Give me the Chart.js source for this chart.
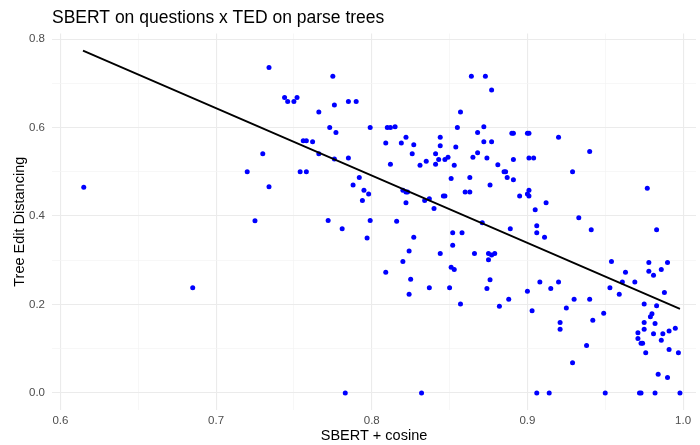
<!DOCTYPE html>
<html>
<head>
<meta charset="utf-8">
<script src="https://cdn.jsdelivr.net/npm/chart.js@4"></script>
<style>
  html, body { margin: 0; padding: 0; background: #fff; overflow: hidden; }
</style>
</head>
<body>
<canvas id="scatterChart" width="700" height="445"></canvas>
<script>
// SBERT similarity (x) vs tree edit distance (y), one entry per question pair
const sbertX = [
  0.615, 0.685, 0.720, 0.725, 0.730, 0.734, 0.734, 0.744, 0.746, 0.750,
  0.752, 0.754, 0.756, 0.758, 0.758, 0.762, 0.766, 0.766, 0.772, 0.773,
  0.775, 0.776, 0.776, 0.777, 0.781, 0.783, 0.785, 0.785, 0.790, 0.864,
  0.873, 0.877, 0.857, 0.799, 0.810, 0.812, 0.815, 0.855, 0.868, 0.872,
  0.809, 0.819, 0.822, 0.827, 0.826, 0.844, 0.844, 0.841, 0.843, 0.847,
  0.849, 0.854, 0.872, 0.877, 0.868, 0.865, 0.874, 0.881, 0.885, 0.887,
  0.831, 0.835, 0.841, 0.853, 0.812, 0.792, 0.788, 0.795, 0.798, 0.794,
  0.820, 0.822, 0.823, 0.822, 0.834, 0.837, 0.840, 0.846, 0.847, 0.851,
  0.860, 0.863, 0.863, 0.876, 0.799, 0.816, 0.871, 0.797, 0.827, 0.824,
  0.820, 0.809, 0.825, 0.824, 0.837, 0.850, 0.844, 0.852, 0.858, 0.852,
  0.851, 0.853, 0.866, 0.875, 0.877, 0.879, 0.875, 0.876, 0.874, 0.857,
  0.882, 0.832, 0.905, 0.933, 0.889, 0.906, 0.906, 0.911, 0.941, 0.983,
  0.954, 0.978, 0.990, 0.978, 0.981, 0.986, 0.963, 0.961, 0.969, 0.953,
  0.959, 0.988, 0.908, 0.920, 0.915, 0.900, 0.888, 0.930, 0.940, 0.903,
  0.925, 0.949, 0.942, 0.921, 0.921, 0.975, 0.983, 0.980, 0.979, 0.975,
  0.982, 0.975, 0.971, 0.981, 0.987, 0.991, 0.995, 0.971, 0.973, 0.974,
  0.986, 0.991, 0.997, 0.976, 0.938, 0.929, 0.984, 0.990, 0.906, 0.914,
  0.950, 0.972, 0.973, 0.982, 0.998, 0.890, 0.891, 0.900, 0.901, 0.920,
  0.940, 0.891, 0.901, 0.904, 0.886, 0.891, 0.929, 0.977, 0.901, 0.895,
  0.900, 0.901, 0.912
];
const tedY = [
  0.465, 0.238, 0.500, 0.389, 0.541, 0.736, 0.466, 0.668, 0.659, 0.659,
  0.668, 0.500, 0.570, 0.570, 0.500, 0.568, 0.541, 0.635, 0.390, 0.600,
  0.716, 0.529, 0.651, 0.589, 0.371, 0.000, 0.531, 0.659, 0.659, 0.716,
  0.716, 0.685, 0.635, 0.600, 0.600, 0.600, 0.602, 0.600, 0.589, 0.602,
  0.565, 0.565, 0.578, 0.561, 0.541, 0.578, 0.559, 0.541, 0.528, 0.528,
  0.533, 0.556, 0.568, 0.568, 0.543, 0.533, 0.531, 0.516, 0.500, 0.487,
  0.515, 0.524, 0.517, 0.515, 0.517, 0.487, 0.470, 0.458, 0.450, 0.435,
  0.458, 0.454, 0.454, 0.430, 0.435, 0.439, 0.417, 0.445, 0.445, 0.485,
  0.454, 0.454, 0.487, 0.470, 0.390, 0.388, 0.385, 0.350, 0.352, 0.321,
  0.297, 0.273, 0.257, 0.223, 0.238, 0.238, 0.315, 0.362, 0.362, 0.334,
  0.284, 0.279, 0.315, 0.315, 0.312, 0.315, 0.301, 0.256, 0.236, 0.201,
  0.196, 0.000, 0.414, 0.396, 0.371, 0.378, 0.362, 0.352, 0.369, 0.369,
  0.297, 0.295, 0.295, 0.275, 0.266, 0.279, 0.273, 0.251, 0.251, 0.238,
  0.223, 0.227, 0.251, 0.251, 0.236, 0.230, 0.212, 0.212, 0.212, 0.186,
  0.192, 0.180, 0.164, 0.159, 0.144, 0.201, 0.197, 0.179, 0.172, 0.159,
  0.157, 0.144, 0.136, 0.134, 0.134, 0.140, 0.146, 0.123, 0.112, 0.112,
  0.119, 0.098, 0.091, 0.091, 0.107, 0.068, 0.042, 0.035, 0.000, 0.000,
  0.000, 0.000, 0.000, 0.000, 0.000, 0.587, 0.587, 0.587, 0.587, 0.578,
  0.546, 0.528, 0.531, 0.531, 0.500, 0.482, 0.500, 0.463, 0.458, 0.445,
  0.450, 0.445, 0.430
];

// fitted line at both ends
const fitX = [0.6145, 0.998];
const fitY = [0.774, 0.190];

const xTicks = [0.6, 0.65, 0.7, 0.75, 0.8, 0.85, 0.9, 0.95, 1.0];
const xTickLabels = ["0.6", "", "0.7", "", "0.8", "", "0.9", "", "1.0"];
const yTicks = [0, 0.1, 0.2, 0.3, 0.4, 0.5, 0.6, 0.7, 0.8];
const yTickLabels = ["0.0", "", "0.2", "", "0.4", "", "0.6", "", "0.8"];

const FONT = "'Liberation Sans', Arial, sans-serif";

function gridColor(labels) {
    return c => (labels[c.index] ? "#EBEBEB" : "#F4F4F4");
}
function gridWidth(labels) {
    return c => (labels[c.index] ? 1.1 : 0.7);
}

const points = sbertX.map((x, i) => ({ x: x, y: tedY[i] }));
const fitLine = fitX.map((x, i) => ({ x: x, y: fitY[i] }));

const ctx = document.getElementById("scatterChart").getContext("2d");
new Chart(ctx, {
    type: "scatter",
    data: {
        datasets: [
            {
                type: "line",
                data: fitLine,
                borderColor: "#000000",
                borderWidth: 1.8,
                pointRadius: 0,
                fill: false,
                tension: 0
            },
            {
                data: points,
                backgroundColor: "#0000FF",
                borderWidth: 0,
                pointRadius: 2.5
            }
        ]
    },
    options: {
        responsive: false,
        animation: false,
        devicePixelRatio: 1,
        layout: { padding: 0 },
        plugins: {
            legend: { display: false },
            tooltip: { enabled: false },
            title: {
                display: true,
                text: "SBERT on questions x TED on parse trees",
                align: "start",
                fullSize: false,
                color: "#000000",
                font: { family: FONT, size: 17.5, weight: "normal" },
                padding: { top: 7.5, bottom: 5 }
            }
        },
        scales: {
            x: {
                type: "linear",
                min: 0.5946,
                max: 1.0083,
                afterBuildTicks: s => { s.ticks = xTicks.map(v => ({ value: v })); },
                afterFit: s => { s.height = 35; },
                border: { display: false },
                grid: { color: gridColor(xTickLabels), lineWidth: gridWidth(xTickLabels), drawTicks: false },
                ticks: {
                    padding: 4,
                    color: "#4D4D4D",
                    font: { family: FONT, size: 11.5 },
                    maxRotation: 0,
                    autoSkip: false,
                    callback: (v, i) => xTickLabels[i]
                },
                title: {
                    display: true,
                    text: "SBERT + cosine",
                    color: "#000000",
                    font: { family: FONT, size: 14.5 },
                    padding: { top: 0, bottom: 0 }
                }
            },
            y: {
                type: "linear",
                min: -0.0387,
                max: 0.8127,
                afterBuildTicks: s => { s.ticks = yTicks.map(v => ({ value: v })); },
                afterFit: s => { s.width = 52; },
                border: { display: false },
                grid: { color: gridColor(yTickLabels), lineWidth: gridWidth(yTickLabels), drawTicks: false },
                ticks: {
                    padding: 7,
                    color: "#4D4D4D",
                    font: { family: FONT, size: 11.5 },
                    autoSkip: false,
                    callback: (v, i) => yTickLabels[i]
                },
                title: {
                    display: true,
                    text: "Tree Edit Distancing",
                    color: "#000000",
                    font: { family: FONT, size: 14.5 },
                    padding: { top: 11, bottom: 0 }
                }
            }
        }
    }
});
</script>
</body>
</html>
